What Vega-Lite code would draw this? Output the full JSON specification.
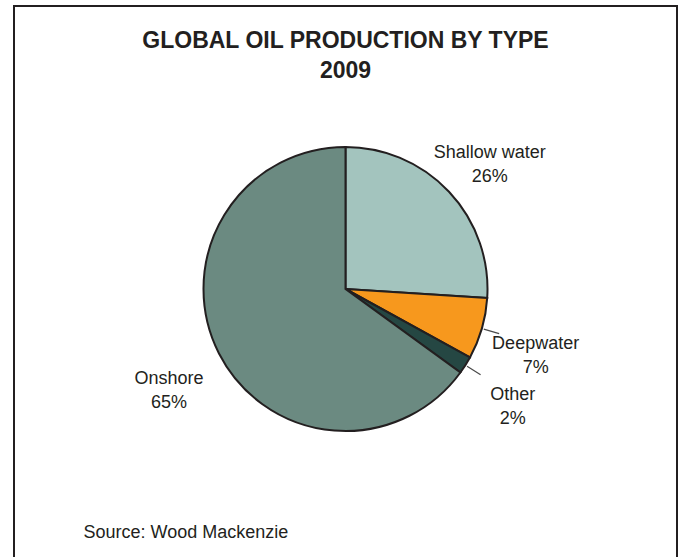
{
  "$schema": "https://vega.github.io/schema/vega-lite/v6.json",
  "width": 663,
  "height": 566,
  "autosize": {"type": "none"},
  "padding": {"left": 14, "top": 6, "right": 4, "bottom": 0},
  "background": "white",
  "config": {
    "view": {"stroke": "#231f20", "strokeWidth": 2},
    "font": "Liberation Sans"
  },
  "title": {
    "text": ["GLOBAL OIL PRODUCTION BY TYPE", "2009"],
    "font": "Liberation Sans",
    "fontSize": 23,
    "fontWeight": "bold",
    "color": "#231f20",
    "lineHeight": 30,
    "offset": -77,
    "frame": "group",
    "anchor": "middle"
  },
  "data": {
    "values": [
      {"type": "Shallow water", "share": 26},
      {"type": "Deepwater", "share": 7},
      {"type": "Other", "share": 2},
      {"type": "Onshore", "share": 65}
    ]
  },
  "transform": [
    {"window": [{"op": "row_number", "as": "idx"}]},
    {"calculate": "[datum.type, datum.share + '%']", "as": "label"}
  ],
  "layer": [
    {
      "mark": {"type": "arc", "radius": 142, "stroke": "#231f20", "strokeWidth": 2},
      "encoding": {
        "theta": {"field": "share", "type": "quantitative", "stack": true},
        "order": {"field": "idx", "type": "quantitative"},
        "color": {
          "field": "type",
          "type": "nominal",
          "scale": {
            "domain": ["Shallow water", "Deepwater", "Other", "Onshore"],
            "range": ["#a3c4be", "#f7981d", "#254743", "#6b8a81"]
          },
          "legend": null
        }
      }
    },
    {
      "mark": {"type": "arc", "radius": 160, "radius2": 144, "padAngle": 0.6, "fill": null, "strokeWidth": 1.2},
      "encoding": {
        "theta": {"field": "share", "type": "quantitative", "stack": true},
        "order": {"field": "idx", "type": "quantitative"},
        "detail": {"field": "type", "type": "nominal"},
        "stroke": {
          "condition": {"test": "datum.type === 'Deepwater' || datum.type === 'Other'", "value": "#4a4a4a"},
          "value": null
        }
      }
    },
    {
      "mark": {"type": "text", "radius": 198, "fontSize": 18, "lineHeight": 24, "color": "#231f20", "align": "center", "baseline": "middle", "font": "Liberation Sans"},
      "encoding": {
        "theta": {"field": "share", "type": "quantitative", "stack": true},
        "order": {"field": "idx", "type": "quantitative"},
        "detail": {"field": "type", "type": "nominal"},
        "text": {"field": "label"}
      }
    },
    {
      "data": {"values": [{"k": "source"}]},
      "transform": [],
      "mark": {"type": "point", "opacity": 0},
      "encoding": {
        "x": {
          "field": "k",
          "type": "nominal",
          "axis": {
            "orient": "bottom",
            "domain": false,
            "ticks": false,
            "labels": false,
            "grid": false,
            "title": "Source: Wood Mackenzie",
            "titleFont": "Liberation Sans",
            "titleFontSize": 18,
            "titleFontWeight": "normal",
            "titleColor": "#231f20",
            "titleAlign": "left",
            "titleBaseline": "middle",
            "titleAngle": 0,
            "titleX": 69,
            "titleY": -40
          }
        }
      }
    }
  ]
}
